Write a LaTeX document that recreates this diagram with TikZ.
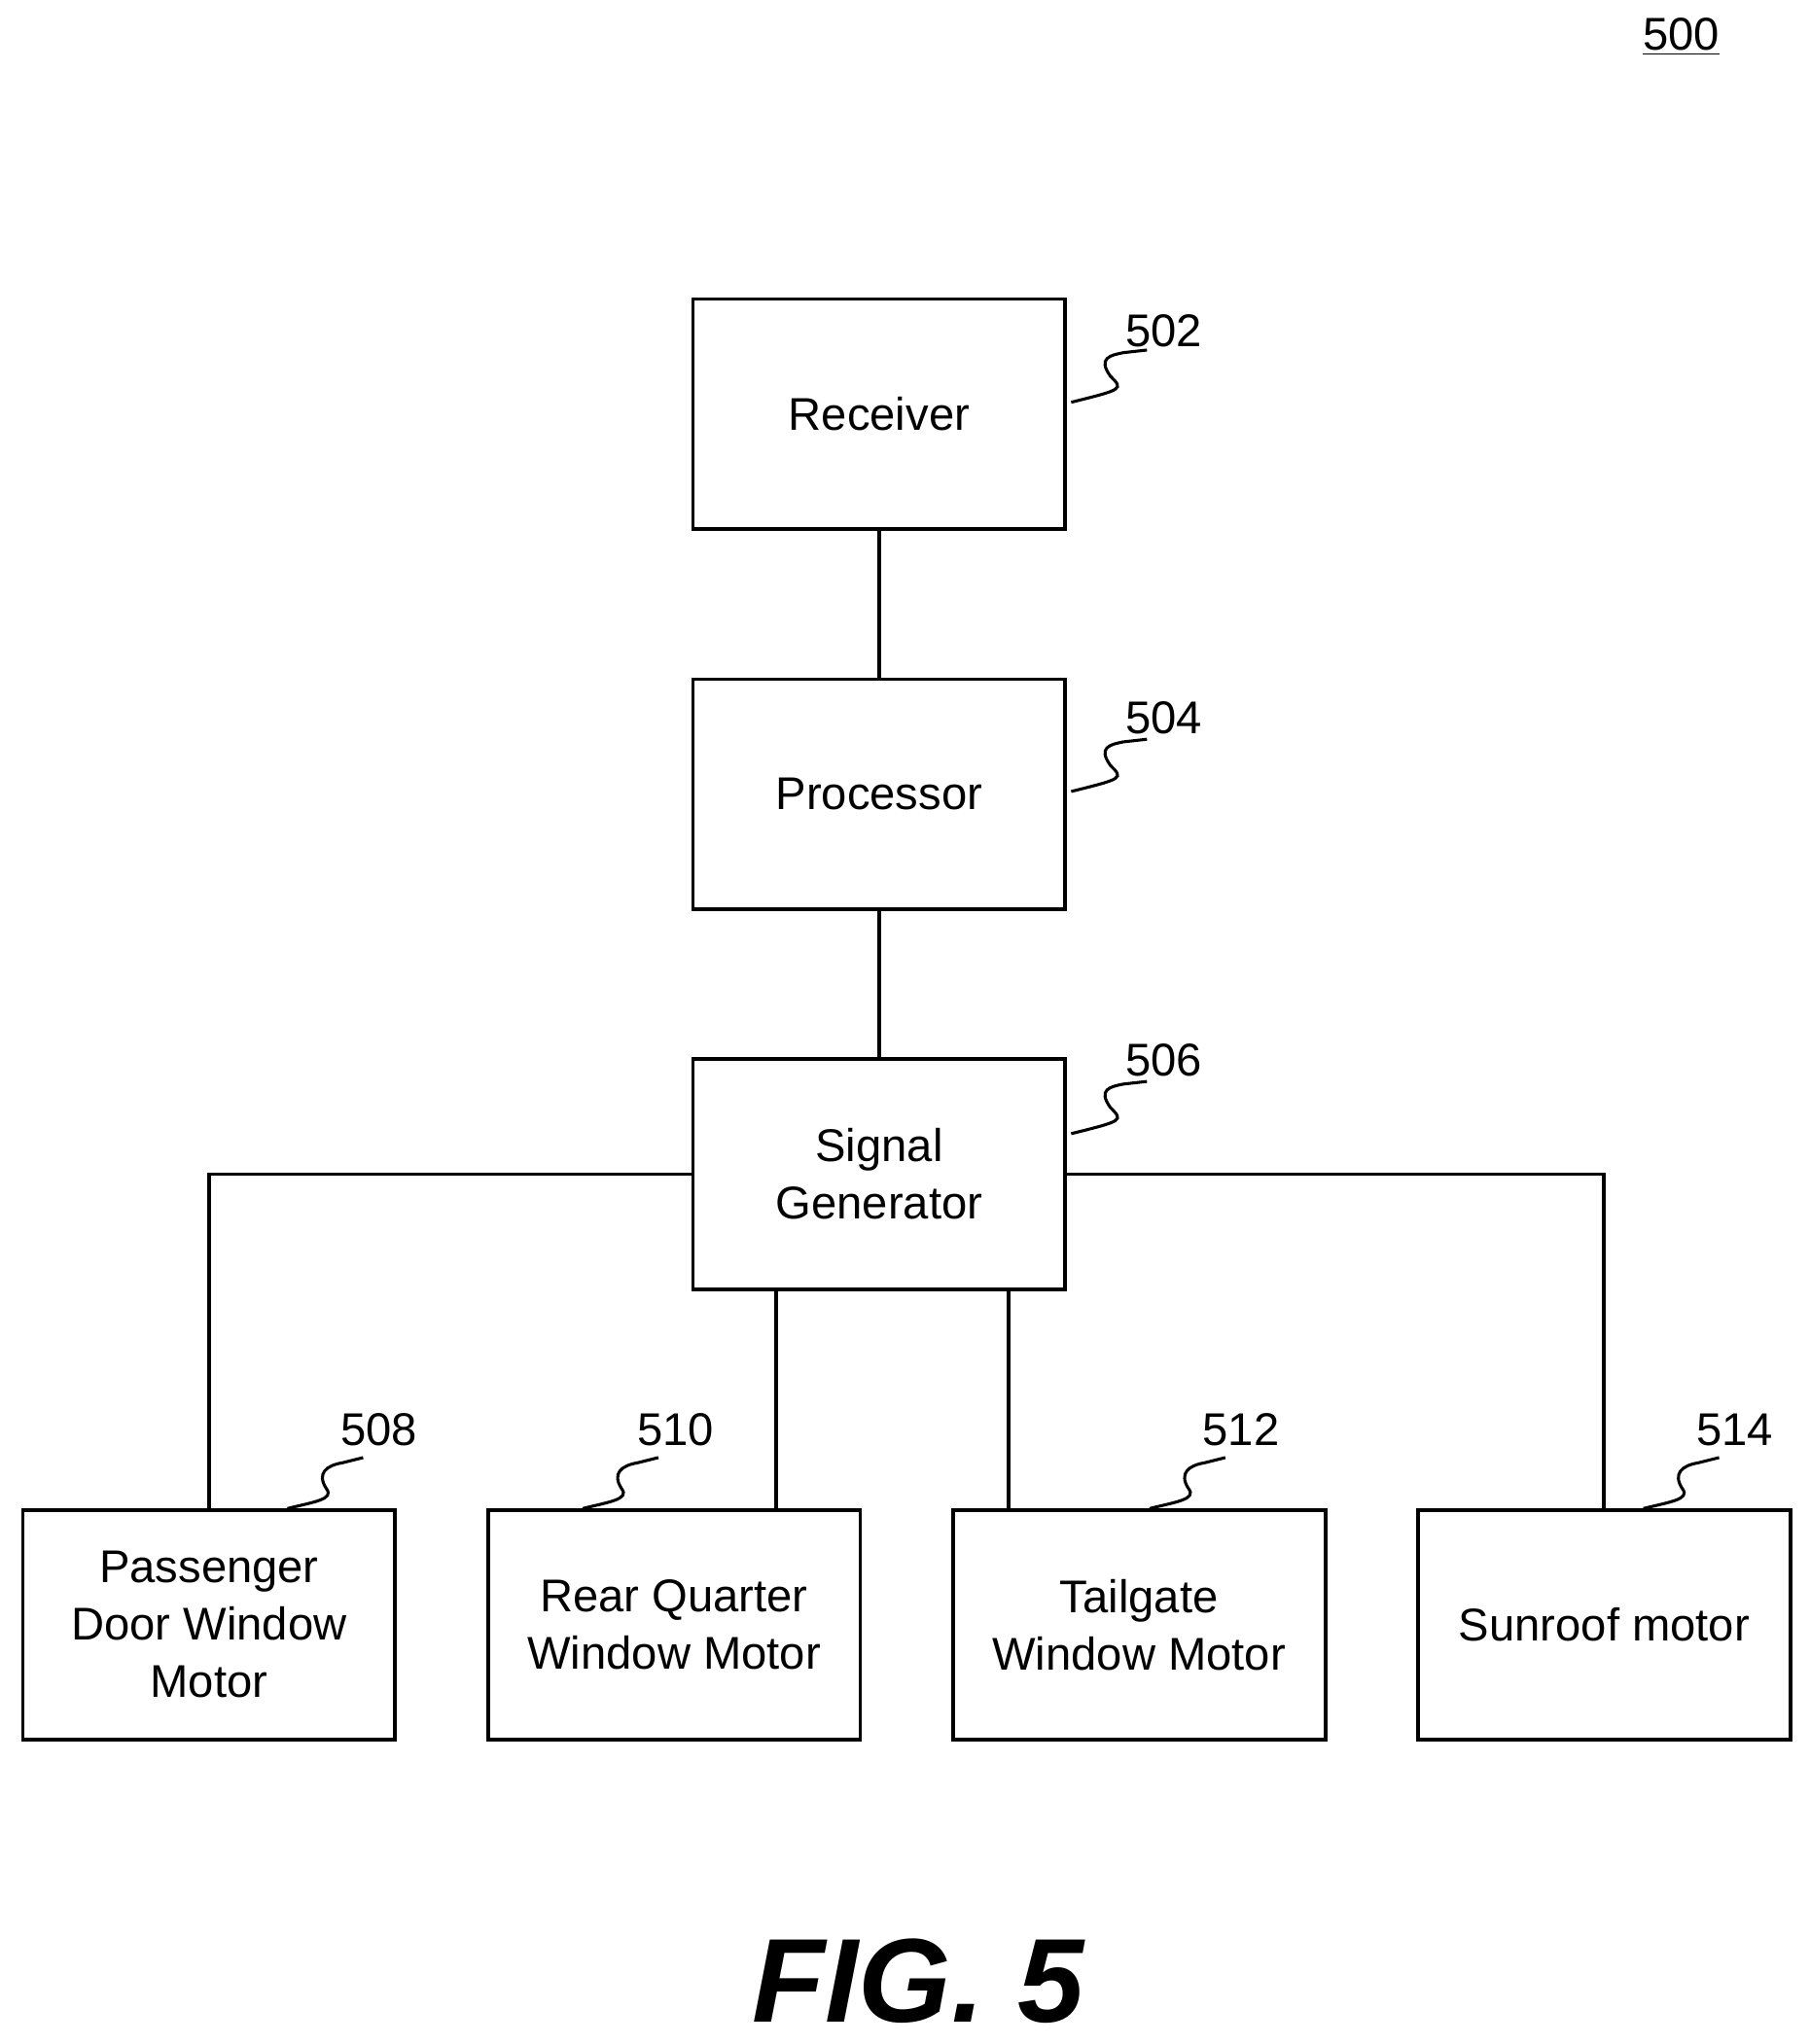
\documentclass[tikz,border=0pt]{standalone}
\usepackage{fontspec}
\setmainfont{Liberation Sans}
\begin{document}
\begin{tikzpicture}[x=0.02cm,y=-0.02cm,
 box/.style={draw,line width=1.6pt,minimum width=285*0.02cm,minimum height=176*0.02cm,inner sep=0pt,align=center,font=\fontsize{20}{25}\selectfont},
 lbl/.style={font=\fontsize{20}{24}\selectfont,inner sep=0pt},
 ln/.style={line width=1.6pt},
 sq/.style={line width=1.3pt}]
\useasboundingbox (0,0) rectangle (1385,1565);
\node[box] (rec) at (673,317) {Receiver};
\node[box] (pro) at (673,608) {Processor};
\node[box] (sig) at (673,899) {Signal\\Generator};
\node[box] (b1) at (160,1244) {Passenger\\Door Window\\Motor};
\node[box] (b2) at (516,1244) {Rear Quarter\\Window Motor};
\node[box] (b3) at (872,1244) {Tailgate\\Window Motor};
\node[box] (b4) at (1228,1244) {Sunroof motor};
\draw[ln] (rec) -- (pro);
\draw[ln] (pro) -- (sig);
\draw[ln] (sig.west) -| (b1.north);
\draw[ln] (sig.east) -| (b4.north);
\coordinate (s1) at (594,988); \coordinate (s2) at (772,988);
\draw[ln] (s1) -- (s1 |- b2.north);
\draw[ln] (s2) -- (s2 |- b3.north);
\node[lbl] (n500) at (1287,28) {\underline{500}};
\node[lbl] (n502) at (891,253) {502};
\node[lbl] (n504) at (891,550) {504};
\node[lbl] (n506) at (891,812) {506};
\node[lbl] (n508) at (290,1095) {508};
\node[lbl] (n510) at (517,1095) {510};
\node[lbl] (n512) at (950,1095) {512};
\node[lbl] (n514) at (1328,1095) {514};
\foreach \x/\y in {820/308,820/606,820/868}{
 \draw[sq] (\x,\y) .. controls (\x+40,\y-10) and (\x+40,\y-10) .. (\x+30,\y-20)
   .. controls (\x+20,\y-34) and (\x+30,\y-36) .. (\x+40,\y-38) -- (\x+58,\y-40);}
\foreach \x in {220,446,880,1258}{
 \draw[sq] (\x,1155) .. controls (\x+20,1150) and (\x+36,1148) .. (\x+30,1140)
   .. controls (\x+22,1128) and (\x+30,1122) .. (\x+42,1120) -- (\x+58,1116);}
\node[font=\fontsize{52}{56}\selectfont\bfseries\itshape,inner sep=0pt] (fig) at (703,1517) {FIG. 5};
\end{tikzpicture}
\end{document}
